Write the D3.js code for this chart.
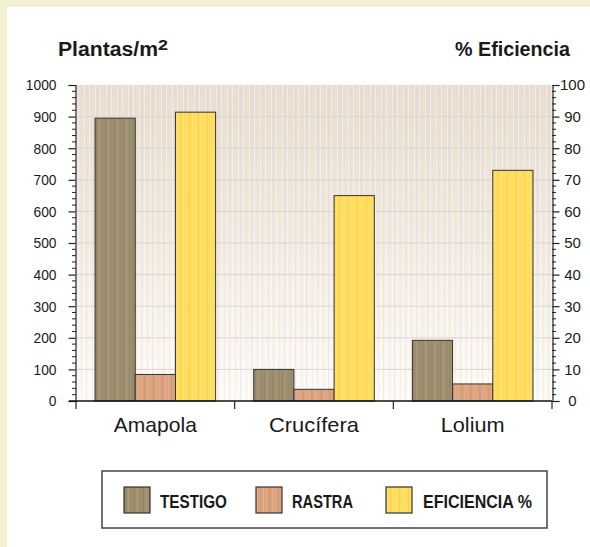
<!DOCTYPE html>
<html><head><meta charset="utf-8">
<script src="https://cdn.jsdelivr.net/npm/d3@7/dist/d3.min.js"></script>
<style>
html,body{margin:0;padding:0;background:#f2f0d0;}
svg{display:block;}
text{font-family:"Liberation Sans","Arial",sans-serif;fill:#1a1a1a;}
</style></head><body>
<script>
const categories = ["Amapola", "Crucífera", "Lolium"];
const series = ["TESTIGO", "RASTRA", "EFICIENCIA %"];
const testigo = [895, 100, 192];
const rastra = [84, 37, 54];
const eficiencia = [91.4, 65, 73];
const leftTicks = [0,100,200,300,400,500,600,700,800,900,1000];
const rightTicks = [0,10,20,30,40,50,60,70,80,90,100];

(function(){
const W = 590, H = 547;
const svg = d3.select("body").append("svg").attr("width", W).attr("height", H);
const defs = svg.append("defs");

function stripes(id, base, cols) {
  const p = defs.append("pattern").attr("id", id).attr("patternUnits", "userSpaceOnUse")
    .attr("width", 9).attr("height", 4);
  p.append("rect").attr("width", 9).attr("height", 4).attr("fill", base);
  cols.forEach(c => p.append("rect").attr("x", c[0]).attr("width", c[1]).attr("height", 4).attr("fill", c[2]));
}
stripes("pT", "#9f9070", [[1,1,"#8d8266"],[4,1,"#b09a78"],[7,1,"#93886a"]]);
stripes("pR", "#daa27e", [[1,1,"#e2ae86"],[4,1,"#cf9674"],[7,1,"#e4b08c"]]);
stripes("pE", "#ffdc5c", [[1,1,"#ffe070"],[4,1,"#f8d24e"],[7,1,"#ffe47a"]]);
const fills = ["url(#pT)", "url(#pR)", "url(#pE)"];

const bg = defs.append("linearGradient").attr("id", "bgG").attr("x1", 0).attr("y1", 0).attr("x2", 0).attr("y2", 1);
bg.append("stop").attr("offset", "0%").attr("stop-color", "#e7dccf");
bg.append("stop").attr("offset", "45%").attr("stop-color", "#efe8df");
bg.append("stop").attr("offset", "100%").attr("stop-color", "#fcfbf8");
const tex = defs.append("pattern").attr("id", "bgTex").attr("patternUnits", "userSpaceOnUse").attr("width", 11).attr("height", 7);
[[1,"#ffffff"],[4,"#f8e4c0"],[7,"#ffffff"],[9,"#e6d6d4"]].forEach(c =>
  tex.append("rect").attr("x", c[0]).attr("width", 1).attr("height", 7).attr("fill", c[1]).attr("opacity", 0.45));

svg.append("rect").attr("x", 7).attr("y", 7).attr("width", W - 7).attr("height", H - 7).attr("fill", "#ffffff");

const pl = 76, pr = 552, pt = 85, pb = 401;
const y = d3.scaleLinear().domain([0, 1000]).range([pb, pt]);
const y2 = d3.scaleLinear().domain([0, 100]).range([pb, pt]);
const x0 = d3.scaleBand().domain(categories).range([pl, pr]).paddingInner(0.24).paddingOuter(0.12);
const x1 = d3.scaleBand().domain(series).range([0, x0.bandwidth()]);

svg.append("rect").attr("x", pl + 1).attr("y", pt).attr("width", pr - pl - 1).attr("height", pb - pt).attr("fill", "url(#bgG)");
svg.append("rect").attr("x", pl + 1).attr("y", pt).attr("width", pr - pl - 1).attr("height", pb - pt).attr("fill", "url(#bgTex)");

svg.append("g").selectAll("line").data(leftTicks.slice(1, -1)).join("line")
  .attr("x1", pl + 1).attr("x2", pr).attr("y1", d => y(d)).attr("y2", d => y(d))
  .attr("stroke", "#dcd4ce").attr("stroke-width", 1);

const rows = categories.map((c, i) => ({ c, vals: [
  { s: series[0], v: y(testigo[i]) },
  { s: series[1], v: y(rastra[i]) },
  { s: series[2], v: y2(eficiencia[i]) }
]}));
const g = svg.append("g").selectAll("g").data(rows).join("g")
  .attr("transform", d => `translate(${x0(d.c)},0)`);
g.selectAll("rect").data(d => d.vals).join("rect")
  .attr("x", d => x1(d.s)).attr("width", x1.bandwidth())
  .attr("y", d => d.v).attr("height", d => pb - d.v)
  .attr("fill", (d, i) => fills[i]).attr("stroke", "#333").attr("stroke-width", 1);

const yAxis = d3.axisLeft(y).tickValues(leftTicks).tickSize(7).tickPadding(11).tickFormat(d3.format("d"));
const ga = svg.append("g").attr("transform", `translate(${pl - 0.5},0)`).call(yAxis);
ga.select(".domain").attr("stroke", "#222").attr("stroke-width", 1.2);
ga.selectAll(".tick line").attr("stroke", "#222").attr("stroke-width", 1.2);
ga.selectAll("text").style("font-size", "15px").attr("fill", "#1a1a1a")
  .attr("transform", "scale(0.92,1)").attr("x", -19 / 0.92);
const minorL = d3.range(0, 1001, 20).filter(d => d % 100 !== 0);
svg.append("g").selectAll("line").data(minorL).join("line")
  .attr("x1", pl - 4).attr("x2", pl).attr("y1", d => y(d)).attr("y2", d => y(d))
  .attr("stroke", "#222").attr("stroke-width", 1);

const yAxis2 = d3.axisRight(y2).tickValues(rightTicks).tickSize(7).tickPadding(4).tickFormat(d3.format("d"));
const gb = svg.append("g").attr("transform", `translate(${pr + 0.5},0)`).call(yAxis2);
gb.select(".domain").attr("stroke", "#222").attr("stroke-width", 1.2);
gb.selectAll(".tick line").attr("stroke", "#222").attr("stroke-width", 1.2);
gb.selectAll("text").style("font-size", "15px").attr("text-anchor", "middle").attr("x", 20).attr("fill", "#1a1a1a");
const minorR = d3.range(0, 101, 2).filter(d => d % 10 !== 0);
svg.append("g").selectAll("line").data(minorR).join("line")
  .attr("x1", pr).attr("x2", pr + 4).attr("y1", d => y2(d)).attr("y2", d => y2(d))
  .attr("stroke", "#222").attr("stroke-width", 1);

svg.append("line").attr("x1", pl - 7).attr("x2", pr).attr("y1", pb).attr("y2", pb)
  .attr("stroke", "#111").attr("stroke-width", 1.6);
const catTicks = categories.map(c => x0(c) - x0.step() * x0.paddingInner() / 2).concat([pr]);
svg.append("g").selectAll("line").data(catTicks).join("line")
  .attr("x1", d => d).attr("x2", d => d).attr("y1", pb).attr("y2", pb + 8)
  .attr("stroke", "#222").attr("stroke-width", 1.2);
const catW = [83, 90, 64];
svg.append("g").selectAll("text").data(categories).join("text")
  .attr("x", d => x0(d) + x0.bandwidth() / 2).attr("y", 432)
  .attr("text-anchor", "middle").style("font-size", "21px")
  .attr("textLength", (d, i) => catW[i]).attr("lengthAdjust", "spacingAndGlyphs").text(d => d);

svg.append("text").attr("x", 58).attr("y", 56).style("font-size", "20px").style("font-weight", "bold")
  .attr("textLength", 100).attr("lengthAdjust", "spacingAndGlyphs").text("Plantas/m");
svg.append("text").attr("x", 158).attr("y", 50).style("font-size", "15px").style("font-weight", "bold")
  .attr("textLength", 10).attr("lengthAdjust", "spacingAndGlyphs").text("2");
svg.append("text").attr("x", 455).attr("y", 56)
  .style("font-size", "20px").style("font-weight", "bold")
  .attr("textLength", 115).attr("lengthAdjust", "spacingAndGlyphs").text("% Eficiencia");

svg.append("rect").attr("x", 102).attr("y", 471).attr("width", 445).attr("height", 57)
  .attr("fill", "#fff").attr("stroke", "#444").attr("stroke-width", 1.5);
const legX = [124, 256, 386];
const legTx = [36, 36, 37];
const legW = [67, 61, 109];
const lg = svg.append("g").selectAll("g").data(series).join("g")
  .attr("transform", (d, i) => `translate(${legX[i]},487)`);
lg.append("rect").attr("width", 26).attr("height", 26).attr("fill", (d, i) => fills[i])
  .attr("stroke", "#333").attr("stroke-width", 1.2);
lg.append("text").attr("x", (d, i) => legTx[i]).attr("y", 21)
  .style("font-size", "18px").style("font-weight", "bold")
  .attr("textLength", (d, i) => legW[i]).attr("lengthAdjust", "spacingAndGlyphs").text(d => d);
})();
</script>
</body></html>
